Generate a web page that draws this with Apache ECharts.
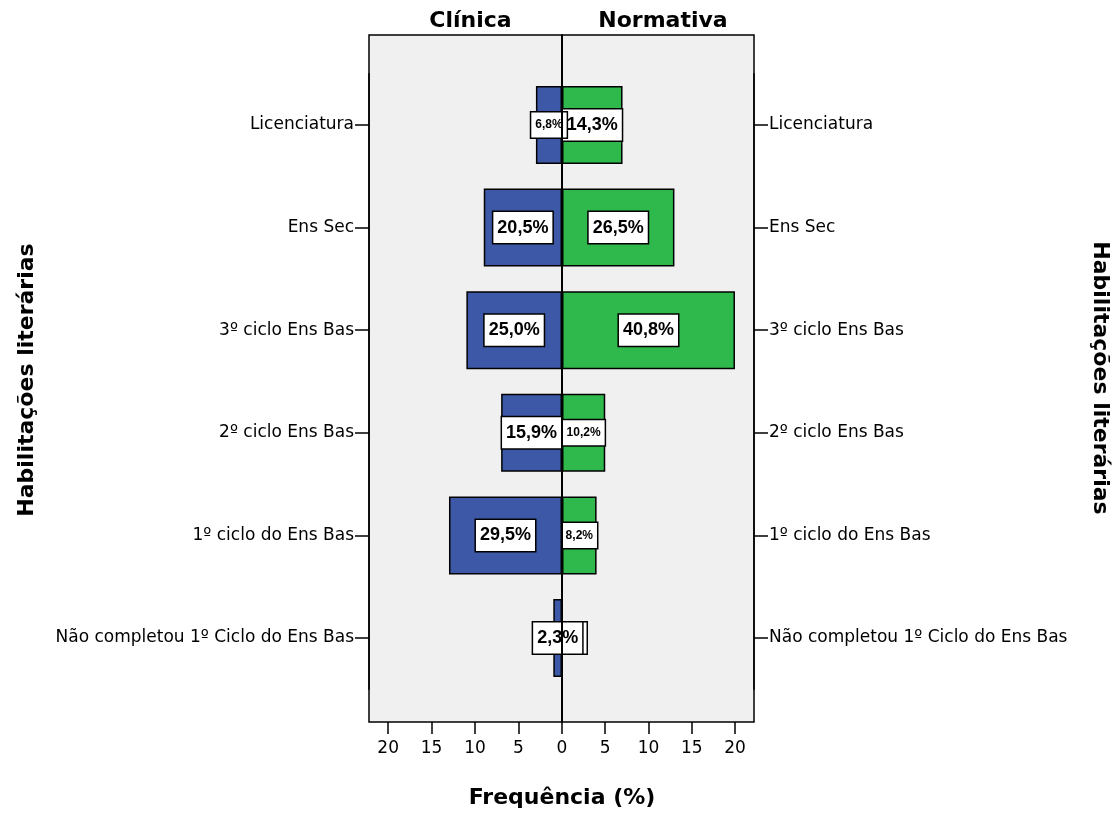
<!DOCTYPE html>
<html>
<head>
<meta charset="utf-8">
<script src="https://cdn.jsdelivr.net/npm/echarts@6/dist/echarts.min.js"></script>
<style>
  html, body { margin: 0; padding: 0; background: #ffffff; }
  #chart { width: 1118px; height: 814px; }
</style>
</head>
<body>
<div id="chart"></div>
<script>
// Education level, top to bottom
const categories = [
  'Licenciatura',
  'Ens Sec',
  '3º ciclo Ens Bas',
  '2º ciclo Ens Bas',
  '1º ciclo do Ens Bas',
  'Não completou 1º Ciclo do Ens Bas'
];
// Counts per group
const clinicaCounts = [3, 9, 11, 7, 13, 1];
const normativaCounts = [7, 13, 20, 5, 4, 0];
// Axis ticks
const xTickStep = 5;
const xTickMax = 20;
const groupNames = ['Clínica', 'Normativa'];

const FONT = 'DejaVu Sans';
const LABEL_FONT = 'Liberation Sans';
const X_MAX = 22.2;
const BLUE = '#3e58a8';
const GREEN = '#2fb84b';

// Labels drawn in a smaller font (they would not fit the bar otherwise)
const smallLabels = {
  clinica: ['Licenciatura'],
  normativa: ['2º ciclo Ens Bas', '1º ciclo do Ens Bas']
};

function total(arr) { return arr.reduce((a, b) => a + b, 0); }
function pct(v, t) { return (v / t * 100).toFixed(1).replace('.', ',') + '%'; }

function barData(counts, smallSet) {
  return counts.map((v, i) => {
    const small = smallSet.indexOf(categories[i]) >= 0;
    return {
      value: v,
      label: small
        ? { fontSize: 12, padding: [7, 4, 6, 4] }
        : { fontSize: 18, padding: [7, 4, 6, 4] }
    };
  });
}

const labelBase = {
  show: true,
  position: 'inside',
  color: '#000',
  fontFamily: LABEL_FONT,
  fontWeight: 'bold',
  backgroundColor: '#ffffff',
  borderColor: '#000',
  borderWidth: 1.5
};

const chart = echarts.init(document.getElementById('chart'), null, { renderer: 'canvas' });

const frameTopY = 35, frameBottomY = 722;
const barTopY = 73.7, barBottomY = 689.3;
const leftL = 369, mid = 562, rightR = 754;

// the tick strips cover 0..xTickMax on the same scale as the frames
const leftScale = (mid - leftL) / X_MAX;
const rightScale = (rightR - mid) / X_MAX;
const tickLeftL = mid - xTickMax * leftScale;
const tickRightR = mid + xTickMax * rightScale;

const cTotal = total(clinicaCounts);
const nTotal = total(normativaCounts);

const blackLine = () => ({ color: '#000', width: 1.5 });

const xAxisTicks = (gridIndex, inverse, showZero) => ({
  type: 'value', gridIndex, min: 0, max: xTickMax, interval: xTickStep, inverse,
  axisLine: { show: false, onZero: false },
  splitLine: { show: false },
  axisTick: { show: true, length: 12, lineStyle: blackLine() },
  axisLabel: { showMinLabel: showZero, fontFamily: FONT, fontSize: 17, color: '#000', margin: 18 }
});

const yAxisBars = (gridIndex, position) => ({
  type: 'category', gridIndex, data: categories, inverse: true, position,
  axisLine: { show: true, onZero: false, lineStyle: blackLine() },
  axisTick: { show: true, alignWithLabel: true, length: 14, lineStyle: blackLine() },
  axisLabel: { fontFamily: FONT, fontSize: 17, color: '#000', margin: 15 }
});

chart.setOption({
  animation: false,
  title: [
    { text: groupNames[0], left: (leftL + mid) / 2, top: 5, textAlign: 'center',
      textStyle: { fontFamily: FONT, fontWeight: 'bold', fontSize: 22, color: '#000' } },
    { text: groupNames[1], left: (mid + rightR) / 2, top: 5, textAlign: 'center',
      textStyle: { fontFamily: FONT, fontWeight: 'bold', fontSize: 22, color: '#000' } }
  ],
  grid: [
    // plot frames
    { left: leftL, right: 1118 - mid, top: frameTopY, bottom: 814 - frameBottomY, show: true,
      backgroundColor: '#f0f0f0', borderColor: '#000', borderWidth: 1.5 },
    { left: mid, right: 1118 - rightR, top: frameTopY, bottom: 814 - frameBottomY, show: true,
      backgroundColor: '#f0f0f0', borderColor: '#000', borderWidth: 1.5 },
    // bar areas
    { left: leftL, right: 1118 - mid, top: barTopY, bottom: 814 - barBottomY },
    { left: mid, right: 1118 - rightR, top: barTopY, bottom: 814 - barBottomY },
    // tick strips along the bottom edge
    { left: tickLeftL, right: 1118 - mid, top: frameBottomY - 20, bottom: 814 - frameBottomY },
    { left: mid, right: 1118 - tickRightR, top: frameBottomY - 20, bottom: 814 - frameBottomY }
  ],
  xAxis: [
    { type: 'value', gridIndex: 0, min: 0, max: X_MAX, inverse: true, show: false },
    { type: 'value', gridIndex: 1, min: 0, max: X_MAX, show: false },
    { type: 'value', gridIndex: 2, min: 0, max: X_MAX, inverse: true, show: false },
    { type: 'value', gridIndex: 3, min: 0, max: X_MAX, show: false },
    xAxisTicks(4, true, false),
    xAxisTicks(5, false, true)
  ],
  yAxis: [
    { type: 'value', gridIndex: 0, min: 0, max: 1, show: false },
    { type: 'value', gridIndex: 1, min: 0, max: 1, show: false },
    yAxisBars(2, 'left'),
    yAxisBars(3, 'right'),
    { type: 'value', gridIndex: 4, min: 0, max: 1, show: false },
    { type: 'value', gridIndex: 5, min: 0, max: 1, show: false }
  ],
  series: [
    {
      name: groupNames[1], type: 'bar', xAxisIndex: 3, yAxisIndex: 3, z: 3,
      barWidth: 78,
      itemStyle: { color: GREEN, borderColor: '#000', borderWidth: 1.5 },
      label: Object.assign({}, labelBase, { formatter: p => pct(p.value, nTotal) }),
      data: barData(normativaCounts, smallLabels.normativa)
    },
    {
      name: groupNames[0], type: 'bar', xAxisIndex: 2, yAxisIndex: 2, z: 4,
      barWidth: 78,
      itemStyle: { color: BLUE, borderColor: '#000', borderWidth: 1.5 },
      label: Object.assign({}, labelBase, { formatter: p => pct(p.value, cTotal) }),
      data: barData(clinicaCounts, smallLabels.clinica)
    },
    {
      // zero line separating the two groups
      type: 'line', xAxisIndex: 1, yAxisIndex: 1, z: 10,
      symbol: 'none', silent: true,
      lineStyle: { color: '#000', width: 2 },
      data: [[0, 0], [0, 1]]
    }
  ],
  graphic: [
    { type: 'text', x: mid, y: 798, style: { text: 'Frequência (%)', fontFamily: FONT, fontWeight: 'bold',
      fontSize: 22, fill: '#000', align: 'center', verticalAlign: 'middle' } },
    { type: 'text', x: 27, y: 380, rotation: Math.PI / 2, style: { text: 'Habilitações literárias',
      fontFamily: FONT, fontWeight: 'bold', fontSize: 22, fill: '#000', align: 'center', verticalAlign: 'middle' } },
    { type: 'text', x: 1100, y: 378, rotation: -Math.PI / 2, style: { text: 'Habilitações literárias',
      fontFamily: FONT, fontWeight: 'bold', fontSize: 22, fill: '#000', align: 'center', verticalAlign: 'middle' } }
  ]
});
</script>
</body>
</html>
